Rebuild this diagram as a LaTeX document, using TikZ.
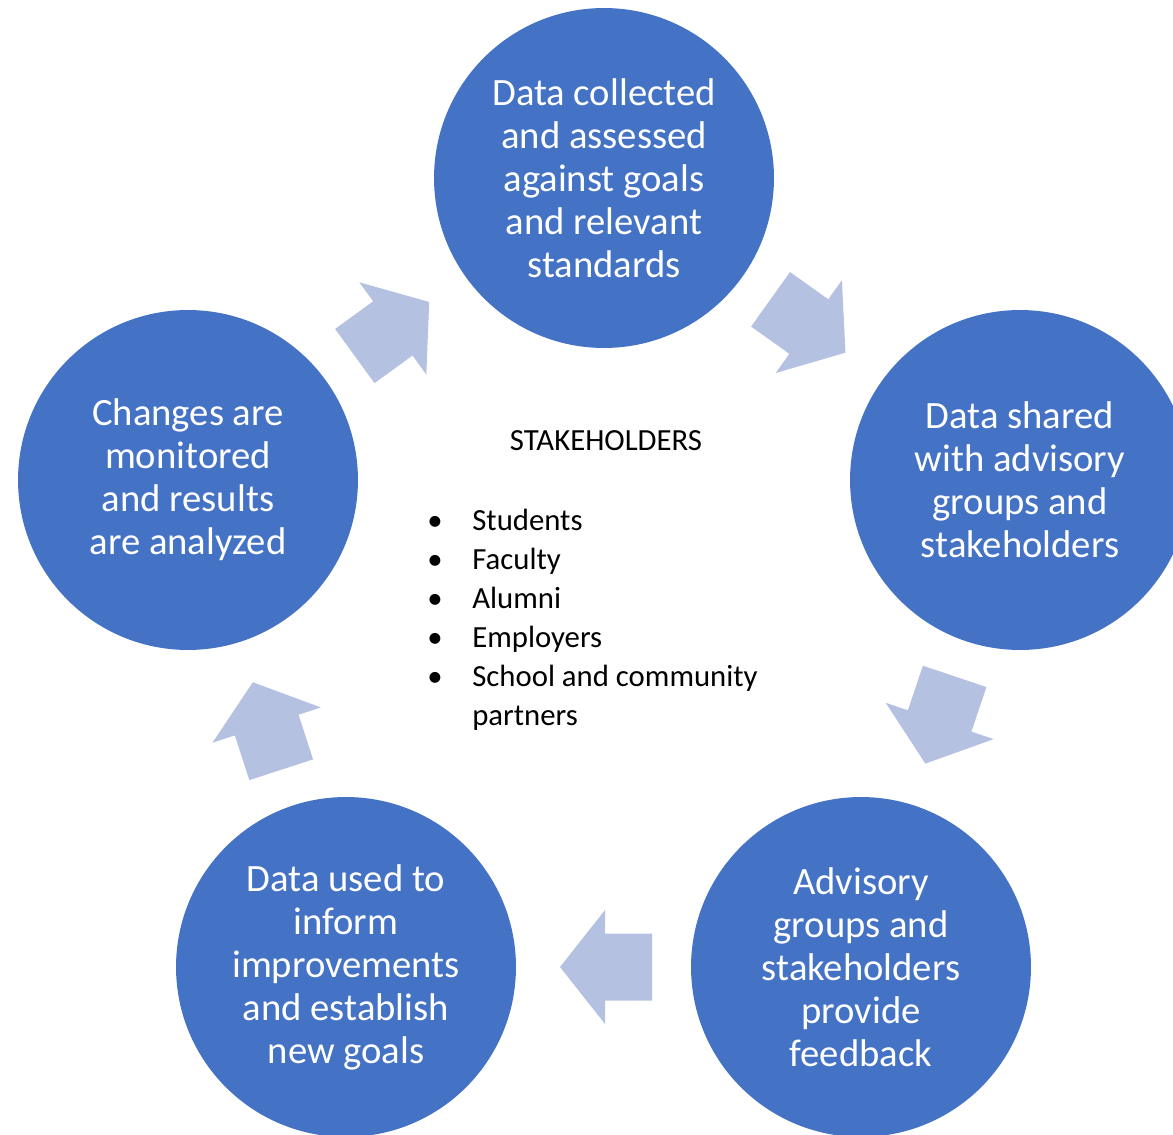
\documentclass[tikz,border=0pt]{standalone}
\usepackage{fontspec}
\setmainfont{Carlito}
\usepackage{tikz}
\usetikzlibrary{shapes.geometric}
\definecolor{stageblue}{HTML}{4472C4}
\definecolor{arrowblue}{HTML}{B4C1E1}

\begin{document}
\begin{tikzpicture}[x=0.02cm,y=-0.02cm,
  stage/.style = {circle,minimum size=6.8cm,inner sep=0pt,fill=stageblue,
  text=white,align=center,font=\fontsize{22}{24.5}\selectfont},
  plain/.style = {inner sep=0pt,font=\fontsize{17.5}{22.2}\selectfont},
  cyclearrow/.pic = {\fill[arrowblue] (46,0) -- (1,57) -- (1,33.5) -- (-46,33.5)
  -- (-46,-33.5) -- (1,-33.5) -- (1,-57) -- cycle;}]
 \useasboundingbox (0,0) rectangle (1173,1135);
 \node[stage] (collect) at (604,178)  {Data collected\\and assessed\\against goals\\and relevant\\standards};
 \node[stage] (share)   at (1020,480) {Data shared\\with advisory\\groups and\\stakeholders};
 \node[stage] (advise)  at (861,967)  {Advisory\\groups and\\stakeholders\\provide\\feedback};
 \node[stage] (improve) at (346,967)  {Data used to\\inform\\improvements\\and establish\\new goals};
 \node[stage] (monitor) at (188,480)  {Changes are\\monitored\\and results\\are analyzed};
 %\node (centre) at (604,560) {};
 \pic[rotate=36]     at (392,329) {cyclearrow};
 \pic[rotate=-35.5]  at (808,326) {cyclearrow};
 \pic[rotate=-108.6] at (940,720) {cyclearrow};
 \pic[rotate=180]    at (606,967) {cyclearrow};
 \pic[rotate=108]    at (267,726) {cyclearrow};
 \node[plain,anchor=base] (title) at (606,450) {STAKEHOLDERS};
 \node[plain,anchor=base west] (people) at (427,530) {%
  \begin{tabular}[t]{@{}p{0.9cm}@{}l@{}}
   \textbullet & Students\\
   \textbullet & Faculty\\
   \textbullet & Alumni\\
   \textbullet & Employers\\
   \textbullet & School and community\\
               & partners
  \end{tabular}};
\end{tikzpicture}
\end{document}
